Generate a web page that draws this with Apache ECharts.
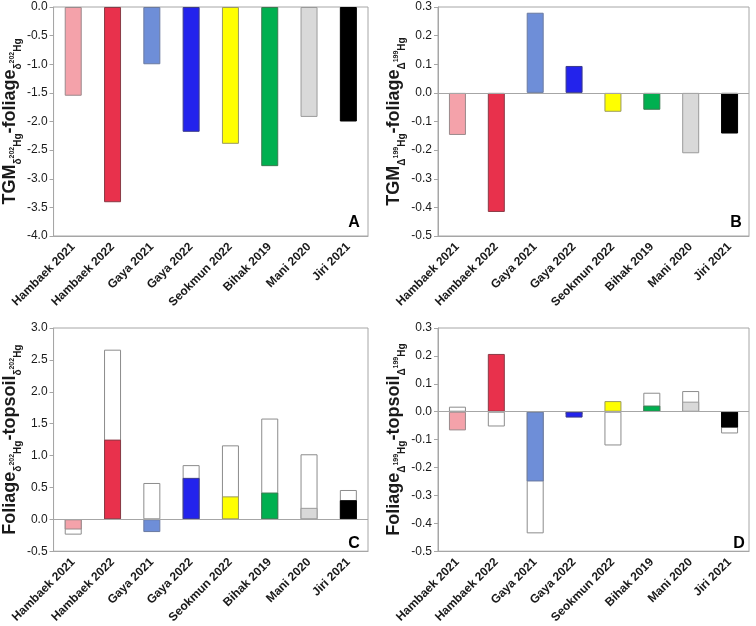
<!DOCTYPE html>
<html>
<head>
<meta charset="utf-8">
<script src="https://cdn.jsdelivr.net/npm/echarts@6/dist/echarts.min.js"></script>
<style>
html,body{margin:0;padding:0;background:#fff;}
#chart{width:756px;height:626px;}
</style>
</head>
<body>
<div id="chart"></div>
<script>
// ---- data ----
const categories = ['Hambaek 2021','Hambaek 2022','Gaya 2021','Gaya 2022','Seokmun 2022','Bihak 2019','Mani 2020','Jiri 2021'];
const barColors = ['#F4A2AA','#E8314C','#6E8ED8','#2323EC','#FFFF00','#00B050','#D9D9D9','#000000'];
const barBorders = ['#9a8a8c','#8a3a46','#6a7aa0','#3a3a8a','#9a9a60','#3a7a50','#9a9a9a','#000000'];

// Panel A: TGM - foliage, delta202Hg
const panelA = [-1.55, -3.41, -1.00, -2.18, -2.39, -2.78, -1.92, -2.00];
// Panel B: TGM - foliage, Delta199Hg
const panelB = [-0.147, -0.416, 0.280, 0.094, -0.066, -0.059, -0.211, -0.142];
// Panel C: foliage - topsoil, delta202Hg (coloured and open bars)
const panelCColored = [-0.16, 1.25, -0.20, 0.65, 0.36, 0.42, 0.18, 0.30];
const panelCOpen = [-0.24, 2.66, 0.57, 0.85, 1.16, 1.58, 1.02, 0.46];
// Panel D: foliage - topsoil, Delta199Hg (coloured and open bars)
const panelDColored = [-0.067, 0.207, -0.250, -0.021, 0.038, 0.022, 0.036, -0.057];
const panelDOpen = [0.018, -0.053, -0.436, -0.010, -0.121, 0.068, 0.074, -0.078];

const yTicksA = {min: -4.0, max: 0.0, interval: 0.5};
const yTicksB = {min: -0.5, max: 0.3, interval: 0.1};
const yTicksC = {min: -0.5, max: 3.0, interval: 0.5};
const yTicksD = {min: -0.5, max: 0.3, interval: 0.1};

const panelLetters = ['A','B','C','D'];

// ---- chart ----
const FONT = 'Arial, "Liberation Sans", sans-serif';
const frameColor = '#a6a6a6';
const textColor = '#1a1a1a';

const nameRich = {
  m: {fontSize: 18, fontWeight: 'bold', lineHeight: 22, verticalAlign: 'top', fontFamily: FONT, color: textColor},
  s: {fontSize: 10, fontWeight: 'bold', lineHeight: 12, verticalAlign: 'bottom', fontFamily: FONT, color: textColor},
  p: {fontSize: 7, fontWeight: 'bold', lineHeight: 8, verticalAlign: 'middle', fontFamily: FONT, color: textColor}
};
function axisName(a, b, iso, mass) {
  return '{m|' + a + '}{s|' + iso + '}{p|' + mass + '}{s|Hg}{m|' + b + '}{s|' + iso + '}{p|' + mass + '}{s|Hg}';
}
const names = [
  axisName('TGM', '-foliage', 'δ', '202'),
  axisName('TGM', '-foliage', 'Δ', '199'),
  axisName('Foliage', '-topsoil', 'δ', '202'),
  axisName('Foliage', '-topsoil', 'Δ', '199')
];

const grids = [
  {left: 52, top: 7, width: 316, height: 229},
  {left: 438, top: 7, width: 311, height: 229},
  {left: 52, top: 328, width: 316, height: 229},
  {left: 438, top: 328, width: 311, height: 229}
];
const yTicks = [yTicksA, yTicksB, yTicksC, yTicksD];

function coloredData(vals) {
  return vals.map((v, i) => ({value: v, itemStyle: {color: barColors[i], borderColor: barBorders[i]}}));
}

const xAxes = grids.map((g, i) => ({
  type: 'category', gridIndex: i, data: categories,
  axisLine: {show: true, onZero: false, lineStyle: {color: frameColor, width: 1}},
  axisTick: {show: false},
  axisLabel: {rotate: 45, interval: 0, fontSize: 12, fontWeight: 'bold', color: textColor, fontFamily: FONT, margin: 9}
}));
const yAxes = grids.map((g, i) => ({
  type: 'value', gridIndex: i,
  min: yTicks[i].min, max: yTicks[i].max, interval: yTicks[i].interval,
  name: names[i], nameLocation: 'middle', nameGap: 29, nameRotate: 90,
  nameTextStyle: {rich: nameRich},
  axisLine: {show: true, lineStyle: {color: frameColor, width: 1}},
  axisTick: {show: true, inside: false, length: 4, lineStyle: {color: frameColor}},
  splitLine: {show: false},
  axisLabel: {fontSize: 12, color: textColor, fontFamily: FONT, margin: 6,
    formatter: v => v.toFixed(1)}
}));

const zeroLine = {
  silent: true, symbol: 'none', label: {show: false},
  lineStyle: {color: frameColor, type: 'solid', width: 1},
  data: [{yAxis: 0}]
};

const series = [];
function addPanel(i, colored, open) {
  if (open) {
    series.push({
      type: 'bar', xAxisIndex: i, yAxisIndex: i, data: open, barWidth: 17, barGap: '-100%',
      itemStyle: {color: '#ffffff', borderColor: '#8c8c8c', borderWidth: 1}, z: 2
    });
  }
  const s = {
    type: 'bar', xAxisIndex: i, yAxisIndex: i, data: coloredData(colored), barWidth: 17, barGap: '-100%',
    itemStyle: {borderWidth: 1}, z: 3
  };
  if (i > 0) s.markLine = zeroLine;
  series.push(s);
}
addPanel(0, panelA, null);
addPanel(1, panelB, null);
addPanel(2, panelCColored, panelCOpen);
addPanel(3, panelDColored, panelDOpen);

const letterPos = [[354, 223], [736, 223], [354, 544], [739, 544]];
const graphic = panelLetters.map((L, i) => ({
  type: 'text', x: letterPos[i][0], y: letterPos[i][1],
  style: {text: L, fontSize: 16, fontWeight: 'bold', fontFamily: FONT, fill: '#000', align: 'center', verticalAlign: 'middle'}
}));

const chart = echarts.init(document.getElementById('chart'), null, {renderer: 'canvas'});
chart.setOption({
  animation: false,
  backgroundColor: '#ffffff',
  grid: grids.map(g => Object.assign({show: true, borderColor: frameColor, borderWidth: 1, backgroundColor: 'transparent'}, g)),
  xAxis: xAxes,
  yAxis: yAxes,
  series: series,
  graphic: graphic
});
</script>
</body>
</html>
